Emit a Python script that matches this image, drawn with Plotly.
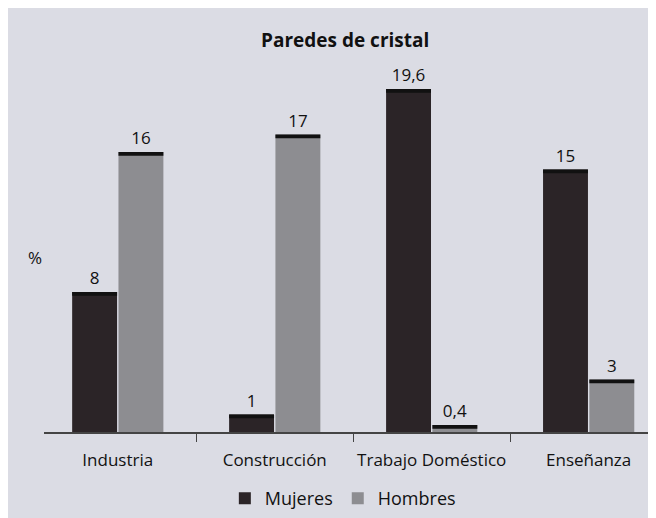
import plotly.graph_objects as go

categories = ["Industria", "Construcción", "Trabajo Doméstico", "Enseñanza"]
mujeres = [8, 1, 19.6, 15]
hombres = [16, 17, 0.4, 3]

cap = 0.22  # thickness of the dark top rule on each bar, in data units


def label(v):
    return f"{v:g}".replace(".", ",")


fig = go.Figure()
fig.add_trace(go.Bar(x=categories, y=mujeres, name="Mujeres",
                     marker_color="#2b2427", offsetgroup="m"))
fig.add_trace(go.Bar(x=categories, y=hombres, name="Hombres",
                     marker_color="#8d8d91", offsetgroup="h"))
# top rules with the value labels
fig.add_trace(go.Bar(x=categories, y=[cap] * 4, base=[v - cap for v in mujeres],
                     marker_color="#111111", offsetgroup="m", showlegend=False,
                     text=[label(v) for v in mujeres], textposition="outside",
                     cliponaxis=False, hoverinfo="skip"))
fig.add_trace(go.Bar(x=categories, y=[cap] * 4, base=[v - cap for v in hombres],
                     marker_color="#111111", offsetgroup="h", showlegend=False,
                     text=[label(v) for v in hombres], textposition="outside",
                     cliponaxis=False, hoverinfo="skip"))

fig.update_traces(textfont=dict(size=17, color="#111111"), marker_line_width=0)

fig.add_annotation(text="%", xref="paper", x=0, xanchor="left", xshift=-18,
                   yref="y", y=10, showarrow=False,
                   font=dict(size=17, color="#111111"))

fig.update_layout(
    width=656, height=518,
    margin=dict(l=36, r=0, t=32, b=94),
    paper_bgcolor="#dbdce4", plot_bgcolor="rgba(0,0,0,0)",
    font=dict(family="Open Sans", color="#111111"),
    title=dict(text="<b>Paredes de cristal</b>", x=0.514, xanchor="center",
               y=0.938, yanchor="middle", font=dict(size=19, color="#111111")),
    barmode="group", bargap=0.41, bargroupgap=0.03,
    legend=dict(orientation="h", x=0.482, xanchor="center", y=-0.17, yanchor="middle",
                font=dict(size=18), bgcolor="rgba(0,0,0,0)", itemwidth=30),
)
fig.update_xaxes(range=[-0.47, 3.48], showline=True, linecolor="#444444", linewidth=1.5,
                 ticks="outside", tickson="boundaries", ticklen=8, tickcolor="#444444",
                 tickfont=dict(size=17, color="#111111"), ticklabelstandoff=12,
                 tickangle=0, automargin=False, showgrid=False)
fig.update_yaxes(range=[0, 22.4], visible=False, showgrid=False, automargin=False)

fig.write_html("out.html")
